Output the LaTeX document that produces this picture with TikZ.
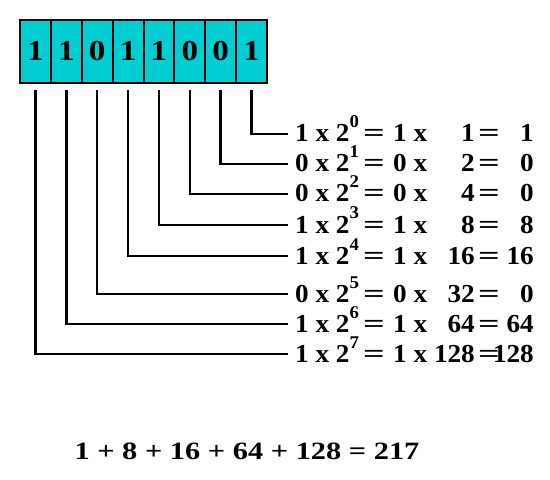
\documentclass[tikz,border=0pt]{standalone}
\usepackage{fontspec}
\setmainfont{Liberation Serif}
\newfontfamily\bitfont[FakeStretch=1.15]{Liberation Serif}
\newfontfamily\rowfont[FakeStretch=1.05]{Liberation Serif}
\newfontfamily\sumfont[FakeStretch=1.22]{Liberation Serif}
\definecolor{cellcyan}{RGB}{0,206,210}
\tikzset{
  cell/.style={draw=black, line width=2bp, fill=cellcyan, minimum width=30.875bp,
    minimum height=63bp, inner sep=0pt, anchor=north west,
    font=\bitfont\bfseries\fontsize{29}{29}\selectfont},
  wire/.style={line width=2.5bp, line cap=butt},
  rowtxt/.style={inner sep=0pt, font=\rowfont\bfseries\fontsize{26}{26}\selectfont},
  sumtxt/.style={inner sep=0pt, font=\sumfont\bfseries\fontsize{25}{25}\selectfont}
}
\newcommand{\supnum}[1]{\raisebox{14bp}{\fontsize{18}{18}\selectfont #1}}
\newcommand{\wideeq}{\scalebox{1.4}[1]{=}}
\begin{document}
\begin{tikzpicture}[x=1bp,y=-1bp]
\useasboundingbox (0,0) rectangle (550,480);
% bit cells (b7 left ... b0 right)
\foreach \k/\bit in {7/1,6/1,5/0,4/1,3/1,2/0,1/0,0/1}{
  \node[cell] (b\k) at ({19+(7-\k)*30.875},19) {\raisebox{2bp}{\bit}};
}
% wires
\foreach \k/\y in {0/134,1/164,2/194,3/225,4/256,5/294,6/324,7/354}{
  \coordinate (e\k) at (288,\y);
  \draw[wire] ([yshift=-6bp]b\k.south) |- (e\k);
}
% equations
\begin{scope}
\clip (0,0) rectangle (532,480);
\foreach \k/\bit/\y/\v/\r in {0/1/134/1/1,1/0/164/2/0,2/0/194/4/0,3/1/225/8/8,
    4/1/256/16/16,5/0/294/32/0,6/1/324/64/64,7/1/354/128/128}{
  \node[rowtxt, anchor=base west] (p\k) at (295,\y+8) {\bit{} x 2\supnum{\k}};
  \node[rowtxt, anchor=base] (q\k) at (374,\y+8) {\wideeq};
  \node[rowtxt, anchor=base west] (m\k) at (393,\y+8) {\bit{} x};
  \node[rowtxt, anchor=base east] (v\k) at (475,\y+8) {\v};
  \node[rowtxt, anchor=base] (s\k) at (489,\y+8) {\wideeq};
  \node[rowtxt, anchor=base east] (r\k) at (534,\y+8) {\r};
}
\end{scope}
\node[sumtxt, anchor=base] (total) at (247,459) {1 + 8 + 16 + 64 + 128 = 217};
\end{tikzpicture}
\end{document}
